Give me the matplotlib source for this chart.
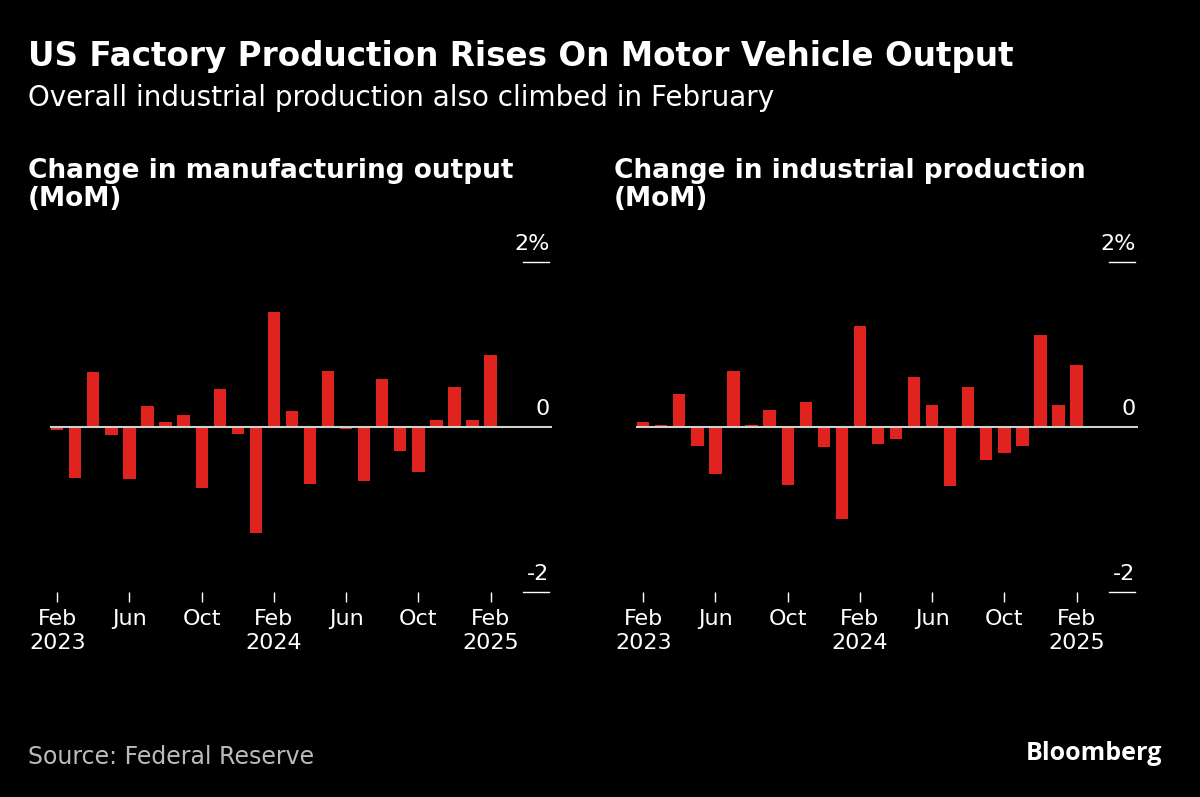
import matplotlib
matplotlib.use("Agg")
import matplotlib.pyplot as plt
import matplotlib.transforms as mtransforms

months = ["Feb 2023","Mar","Apr","May","Jun","Jul","Aug","Sep","Oct","Nov","Dec",
          "Jan 2024","Feb 2024","Mar","Apr","May","Jun","Jul","Aug","Sep","Oct","Nov","Dec",
          "Jan 2025","Feb 2025"]
manufacturing = [-0.04,-0.62,0.67,-0.10,-0.63,0.26,0.06,0.15,-0.74,0.46,-0.08,-1.29,1.40,
                 0.20,-0.69,0.68,-0.03,-0.66,0.58,-0.29,-0.55,0.09,0.48,0.08,0.87]
industrial = [0.06,0.02,0.40,-0.23,-0.57,0.68,0.02,0.21,-0.70,0.30,-0.24,-1.11,1.23,
              -0.20,-0.15,0.61,0.27,-0.71,0.49,-0.40,-0.32,-0.23,1.12,0.27,0.75]
tick_idx = [0,4,8,12,16,20,24]
tick_labels = ["Feb\n2023","Jun","Oct","Feb\n2024","Jun","Oct","Feb\n2025"]
ytick_vals = [2,0,-2]
ytick_labels = ["2%","0","-2"]

W,H = 1200,797
fig = plt.figure(figsize=(W/100,H/100),dpi=100,facecolor="black")
RED = "#e0231f"
FONT = "DejaVu Sans"

def panel(x0,x1,data,title):
    ax = fig.add_axes([x0/W,(H-592)/H,(x1-x0)/W,330/H])
    ax.set_facecolor("black")
    xs = list(range(len(data)))
    ax.bar(xs,data,width=0.68,color=RED,zorder=2)
    ax.set_xlim(-0.4,27.4)
    ax.set_ylim(-2,2)
    ax.axhline(0,color="#d0d0d0",lw=1.5,zorder=3)
    for s in ax.spines.values(): s.set_visible(False)
    ax.set_yticks([])
    ax.set_xticks(tick_idx)
    ax.set_xticklabels(tick_labels,color="white",fontsize=16,family=FONT,linespacing=1.25)
    ax.tick_params(axis="x",colors="white",length=7,width=1,pad=5,labelcolor="white")
    tr = mtransforms.blended_transform_factory(ax.transAxes,ax.transData)
    for v,l in zip(ytick_vals,ytick_labels):
        if v != 0:
            ax.plot([0.943,0.995],[v,v],color="white",lw=1,transform=tr,clip_on=False)
        ax.text(0.995,v+0.1,l,color="white",fontsize=16,family=FONT,ha="right",va="bottom",transform=tr)
    fig.text((x0-22)/W,1-158/H,title,color="white",fontsize=19,fontweight="bold",
             family=FONT,va="top",linespacing=1.1)
    return ax

panel(50,552,manufacturing,"Change in manufacturing output\n(MoM)")
panel(636,1138,industrial,"Change in industrial production\n(MoM)")

fig.text(28/W,1-40/H,"US Factory Production Rises On Motor Vehicle Output",color="white",
         fontsize=23.5,fontweight="bold",family=FONT,va="top")
fig.text(28/W,1-84/H,"Overall industrial production also climbed in February",color="white",
         fontsize=20,family=FONT,va="top")
fig.text(28/W,1-757/H,"Source: Federal Reserve",color="#bbbbbb",fontsize=17,family=FONT,va="center")
fig.text(1162/W,1-754/H,"Bloomberg",color="white",fontsize=18,fontweight="bold",family="Open Sans",
         va="center",ha="right")
fig.savefig("out.png",dpi=100,facecolor="black")
